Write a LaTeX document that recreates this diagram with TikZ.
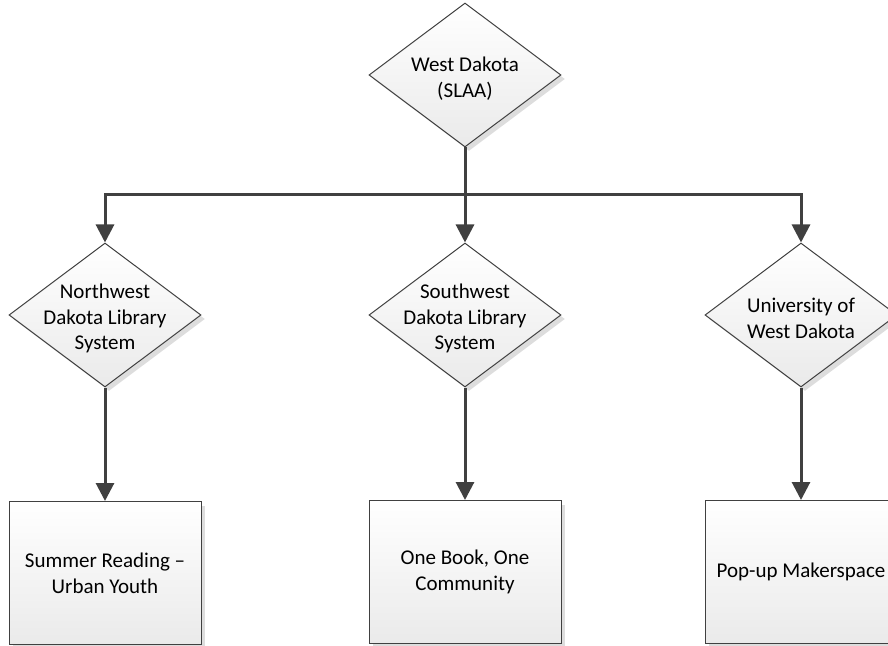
\documentclass[tikz,border=0pt]{standalone}
\usepackage{fontspec}
\setmainfont{Carlito}
\usetikzlibrary{arrows.meta,shapes.geometric,shadows}
\definecolor{linegray}{HTML}{404040}
\definecolor{shadegray}{HTML}{EAEAEA}

\begin{document}
\begin{tikzpicture}[x=.5pt,y=-.5pt,>={Triangle[width=9pt,length=9pt]},
  font=\fontsize{10.5}{12.8}\selectfont,
  softshadow/.style={drop shadow={shadow xshift=2pt,shadow yshift=-2pt,fill=black!22,opacity=.6}},
  decision/.style={diamond,draw=linegray,line width=.5pt,minimum width=96pt,minimum height=72pt,
    inner sep=0pt,top color=white,bottom color=shadegray,softshadow},
  process/.style={rectangle,draw=linegray,line width=.5pt,minimum width=96pt,minimum height=71.5pt,
    align=center,top color=white,bottom color=shadegray,softshadow},
  every label/.style={align=center,inner sep=0pt,yshift=-1.8pt},
  link/.style={draw=linegray,line width=1.5pt}]
\useasboundingbox (0,0) rectangle (888,646);
% top level
\node[decision,label={center:{West Dakota\\(SLAA)}}] (slaa) at (465,75) {};
\coordinate (split) at (465,195);
% library systems
\node[decision,label={center:{Northwest\\Dakota Library\\System}}] (nwdls) at (105,315) {};
\node[decision,label={center:{Southwest\\Dakota Library\\System}}] (swdls) at (465,315) {};
\node[decision,label={center:{University of\\West Dakota}}] (uwd) at (801,315) {};
% programs
\node[process] (summer) at (105,573) {Summer Reading \textendash\\Urban Youth};
\node[process] (onebook) at (465,572) {One Book, One\\Community};
\node[process] (maker) at (801,572) {Pop-up Makerspace};
\draw[link] (slaa) -- (split);
\draw[link,->] (split) -| (nwdls);
\draw[link,->] (split) -- (swdls);
\draw[link,->] (split) -| (uwd);
\draw[link,->] (nwdls) -- (summer);
\draw[link,->] (swdls) -- (onebook);
\draw[link,->] (uwd) -- (maker);
\end{tikzpicture}
\end{document}
